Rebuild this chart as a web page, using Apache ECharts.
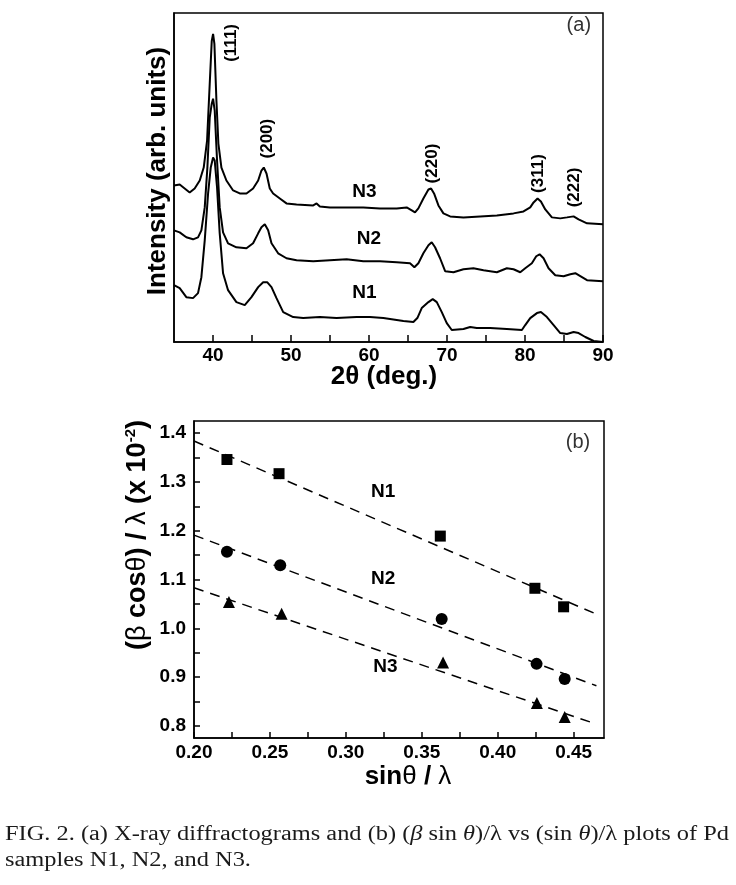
<!DOCTYPE html>
<html>
<head>
<meta charset="utf-8">
<script src="https://cdn.jsdelivr.net/npm/echarts@6/dist/echarts.min.js"></script>
<style>
  html, body { margin: 0; padding: 0; background: #fff; }
  #chart { width: 736px; height: 885px; }
</style>
</head>
<body>
<div id="chart"></div>
<script>
// ---- panel (a): XRD patterns, [2theta, intensity (arb.)]
const n3Pattern = [
  [35.00,157],[35.73,158],[36.37,154],[37.01,150],[37.65,154],[38.30,162],[38.81,175],[39.24,202],
  [39.58,259],[39.84,302],[40.01,309],[40.18,299],[40.44,242],[40.69,199],[41.08,175],[41.72,162],
  [42.58,152],[43.43,149],[44.29,149],[45.14,154],[45.79,162],[46.21,172],[46.51,175],[46.86,169],
  [47.28,154],[47.71,149],[48.57,144],[49.42,139],[50.71,138],[52.85,137],[53.28,139],[53.70,136],
  [54.99,135],[57.13,135],[59.27,135],[61.41,134],[63.55,134],[64.83,135],[65.48,132],[65.90,130],
  [66.33,134],[66.97,144],[67.62,153],[67.96,154],[68.34,149],[68.90,137],[69.54,129],[70.40,126],
  [72.11,125],[74.25,126],[76.39,127],[78.53,129],[79.81,131],[80.67,135],[81.10,140],[81.61,144],
  [82.04,141],[82.60,133],[83.45,125],[84.52,124],[85.38,125],[86.23,126],[86.87,123],[87.95,119],
  [90.00,118]
];
const n2Pattern = [
  [35.00,112],[35.73,110],[36.58,105],[37.44,103],[38.08,105],[38.51,112],[38.94,135],[39.28,175],
  [39.58,225],[39.84,239],[40.01,244],[40.22,232],[40.52,182],[40.86,135],[41.29,110],[41.93,99],
  [43.00,95],[44.29,94],[45.14,99],[45.79,109],[46.21,115],[46.64,118],[47.07,112],[47.50,99],
  [48.35,89],[49.42,84],[50.71,82],[52.85,81],[54.99,82],[57.13,83],[59.27,81],[61.41,81],
  [63.55,80],[65.26,79],[65.82,75],[66.33,79],[66.97,89],[67.62,97],[68.04,100],[68.47,95],
  [69.11,84],[69.76,71],[70.83,70],[72.11,73],[73.39,74],[74.68,72],[76.39,70],[77.67,74],
  [78.53,73],[79.39,70],[80.03,74],[80.88,79],[81.44,86],[81.87,88],[82.38,84],[83.02,74],
  [83.88,67],[84.95,66],[85.81,68],[86.45,69],[87.09,66],[87.95,62],[90.00,61]
];
const n1Pattern = [
  [35.00,57],[35.73,54],[36.58,45],[37.44,44],[38.08,49],[38.51,65],[38.94,102],[39.37,149],
  [39.71,175],[40.01,185],[40.22,182],[40.52,155],[40.86,109],[41.29,69],[41.93,52],[43.00,40],
  [44.07,37],[44.93,45],[45.79,55],[46.43,60],[46.94,60],[47.50,55],[48.14,44],[49.00,30],
  [50.28,25],[51.56,24],[53.70,25],[55.84,24],[58.41,25],[60.12,25],[61.84,24],[64.41,21],
  [65.69,20],[66.20,24],[66.76,34],[67.62,40],[68.17,43],[68.69,40],[69.33,30],[69.97,19],
  [70.61,12],[72.11,13],[72.97,15],[73.82,14],[75.53,14],[77.67,13],[79.60,12],[80.03,17],
  [80.67,24],[81.53,29],[82.04,30],[82.81,25],[83.67,17],[84.52,9],[85.38,8],[86.23,10],
  [86.87,9],[87.73,5],[88.80,1],[90.00,0]
];
const twoThetaLabels = [40, 50, 60, 70, 80, 90];
const twoThetaTicks = [40, 45, 50, 55, 60, 65, 70, 75, 80, 85, 90];
const peakNames = ['(111)', '(200)', '(220)', '(311)', '(222)'];
const peakAnchors = [[42.4, 300], [46.9, 204], [68.1, 179], [81.7, 169], [86.3, 155]];
const sampleNames = ['N1', 'N2', 'N3'];
const sampleAnchorsA = [[59.4, 49], [60.0, 104], [59.4, 151]];

// ---- panel (b): Williamson-Hall points
const sinThetaN1 = [0.2217, 0.2560, 0.3622, 0.4245, 0.4434];
const betaCosN1 = [1.346, 1.317, 1.189, 1.082, 1.044];
const sinThetaN2 = [0.2217, 0.2568, 0.3631, 0.4256, 0.4441];
const betaCosN2 = [1.157, 1.129, 1.019, 0.927, 0.896];
const sinThetaN3 = [0.2230, 0.2577, 0.3640, 0.4258, 0.4441];
const betaCosN3 = [1.054, 1.030, 0.930, 0.847, 0.818];
const fitX = [0.20, 0.465];
const fitN1 = [1.384, 1.029];
const fitN2 = [1.191, 0.882];
const fitN3 = [1.083, 0.8035];
const sinLabels = [0.20, 0.25, 0.30, 0.35, 0.40, 0.45];
const sinTicks = [0.20, 0.225, 0.25, 0.275, 0.30, 0.325, 0.35, 0.375, 0.40, 0.425, 0.45];
const betaLabels = [0.8, 0.9, 1.0, 1.1, 1.2, 1.3, 1.4];
const betaTicks = [0.8, 0.85, 0.9, 0.95, 1.0, 1.05, 1.1, 1.15, 1.2, 1.25, 1.3, 1.35, 1.4];
const sampleAnchorsB = [[0.3245, 1.279], [0.3245, 1.102], [0.326, 0.9215]];

const FONT = '"Liberation Sans", Arial, sans-serif';
const SERIF = '"Liberation Serif", "Times New Roman", serif';

const zip = (xs, ys) => xs.map((x, i) => [x, ys[i]]);

const tickLabel = { color: '#000', fontFamily: FONT, fontWeight: 'bold', fontSize: 19 };
const blackLine = { color: '#000', width: 1.5 };

// text placed in data coordinates through an invisible scatter
const textSeries = (grid, items, anchors, label) => ({
  type: 'scatter', xAxisIndex: grid, yAxisIndex: grid, symbolSize: 0, silent: true,
  itemStyle: { opacity: 1 },
  data: anchors.map((p, i) => ({ value: p, name: items[i] })),
  label: Object.assign({
    show: true, position: 'inside', formatter: '{b}', opacity: 1,
    color: '#000', fontFamily: FONT, fontWeight: 'bold', fontSize: 19
  }, label)
});

const pattern = (data) => ({
  type: 'line', xAxisIndex: 0, yAxisIndex: 0, data, symbol: 'none',
  lineStyle: { color: '#000', width: 2 }, z: 3
});

const points = (xs, ys, symbol, size) => ({
  type: 'scatter', xAxisIndex: 1, yAxisIndex: 1, data: zip(xs, ys),
  symbol, symbolSize: size, itemStyle: { color: '#000', opacity: 1 }, z: 4
});

const fit = (ys) => ({
  type: 'line', xAxisIndex: 1, yAxisIndex: 1, data: zip(fitX, ys), symbol: 'none',
  lineStyle: { color: '#000', width: 1.5, type: [10, 7] }, z: 3
});

const chart = echarts.init(document.getElementById('chart'), null, { renderer: 'canvas' });

chart.setOption({
  animation: false,
  backgroundColor: '#fff',
  grid: [
    { left: 174, top: 13, width: 429, height: 329, show: true, borderColor: '#000', borderWidth: 1.5, outerBoundsMode: 'none' },
    { left: 194, top: 421, width: 410, height: 317, show: true, borderColor: '#000', borderWidth: 1.5, outerBoundsMode: 'none' }
  ],
  xAxis: [
    {
      gridIndex: 0, type: 'value', min: 35, max: 90,
      axisLine: { show: true, lineStyle: blackLine },
      axisTick: { show: true, inside: true, length: 7, customValues: twoThetaTicks, lineStyle: blackLine },
      axisLabel: Object.assign({ customValues: twoThetaLabels, margin: 4 }, tickLabel),
      splitLine: { show: false }
    },
    {
      gridIndex: 1, type: 'value', min: 0.2, max: 0.47,
      axisLine: { show: true, lineStyle: blackLine },
      axisTick: { show: true, inside: true, length: 6, customValues: sinTicks, lineStyle: blackLine },
      axisLabel: Object.assign({ customValues: sinLabels, margin: 5, formatter: v => v.toFixed(2) }, tickLabel),
      splitLine: { show: false }
    }
  ],
  yAxis: [
    {
      gridIndex: 0, type: 'value', min: 0, max: 330,
      axisLine: { show: true, lineStyle: blackLine },
      axisTick: { show: false }, axisLabel: { show: false }, splitLine: { show: false }
    },
    {
      gridIndex: 1, type: 'value', min: 0.775, max: 1.425,
      axisLine: { show: true, lineStyle: blackLine },
      axisTick: { show: true, inside: true, length: 6, customValues: betaTicks, lineStyle: blackLine },
      axisLabel: Object.assign({ customValues: betaLabels, margin: 8, formatter: v => v.toFixed(1) }, tickLabel),
      splitLine: { show: false }
    }
  ],
  series: [
    pattern(n1Pattern),
    pattern(n2Pattern),
    pattern(n3Pattern),
    textSeries(0, peakNames, peakAnchors, { rotate: 90, fontSize: 17 }),
    textSeries(0, sampleNames, sampleAnchorsA, {}),
    textSeries(0, ['(a)'], [[86.9, 317]], { fontWeight: 'normal', fontSize: 20, color: '#333' }),
    fit(fitN1),
    fit(fitN2),
    fit(fitN3),
    points(sinThetaN1, betaCosN1, 'rect', 11),
    points(sinThetaN2, betaCosN2, 'circle', 12),
    points(sinThetaN3, betaCosN3, 'triangle', 12),
    textSeries(1, sampleNames, sampleAnchorsB, {}),
    textSeries(1, ['(b)'], [[0.4529, 1.3816]], { fontWeight: 'normal', fontSize: 20, color: '#333' })
  ],
  graphic: [
    {
      type: 'text', x: 158, y: 171, rotation: Math.PI / 2,
      style: { text: 'Intensity (arb. units)', font: 'bold 26px ' + FONT, fill: '#000', align: 'center', verticalAlign: 'middle' }
    },
    {
      type: 'text', x: 384, y: 377,
      style: { text: '2θ (deg.)', font: 'bold 26px ' + FONT, fill: '#000', align: 'center', verticalAlign: 'middle' }
    },
    {
      type: 'text', x: 408, y: 777,
      style: {
        text: '{b|sin}{g|θ}{b| / }{g|λ}', align: 'center', verticalAlign: 'middle',
        rich: {
          b: { fontFamily: FONT, fontWeight: 'bold', fontSize: 26, fill: '#000' },
          g: { fontFamily: FONT, fontWeight: 'normal', fontSize: 26, fill: '#000' }
        }
      }
    },
    {
      type: 'text', x: 138, y: 535, rotation: Math.PI / 2,
      style: {
        text: '{b|(}{g|β}{b| cos}{g|θ}{b|) / }{g|λ}{b| (x 10}{s|-2}{b|)}', align: 'center', verticalAlign: 'middle',
        rich: {
          b: { fontFamily: FONT, fontWeight: 'bold', fontSize: 27, lineHeight: 30, fill: '#000' },
          g: { fontFamily: FONT, fontWeight: 'normal', fontSize: 27, lineHeight: 30, fill: '#000' },
          s: { fontFamily: FONT, fontWeight: 'bold', fontSize: 15, lineHeight: 30, verticalAlign: 'top', fill: '#000' }
        }
      }
    },
    {
      type: 'text', x: 5, y: 835, scaleX: 1.19,
      style: {
        text: 'FIG. 2. (a) X-ray diffractograms and (b) ({i|β} sin {i|θ})/λ vs (sin {i|θ})/λ plots of Pd',
        font: '20.5px ' + SERIF, fill: '#1a1a1a', align: 'left', verticalAlign: 'middle',
        rich: { i: { fontFamily: SERIF, fontStyle: 'italic', fontSize: 20.5, fill: '#1a1a1a' } }
      }
    },
    {
      type: 'text', x: 5, y: 861, scaleX: 1.19,
      style: { text: 'samples N1, N2, and N3.', font: '20.5px ' + SERIF, fill: '#1a1a1a', align: 'left', verticalAlign: 'middle' }
    }
  ]
});
</script>
</body>
</html>
